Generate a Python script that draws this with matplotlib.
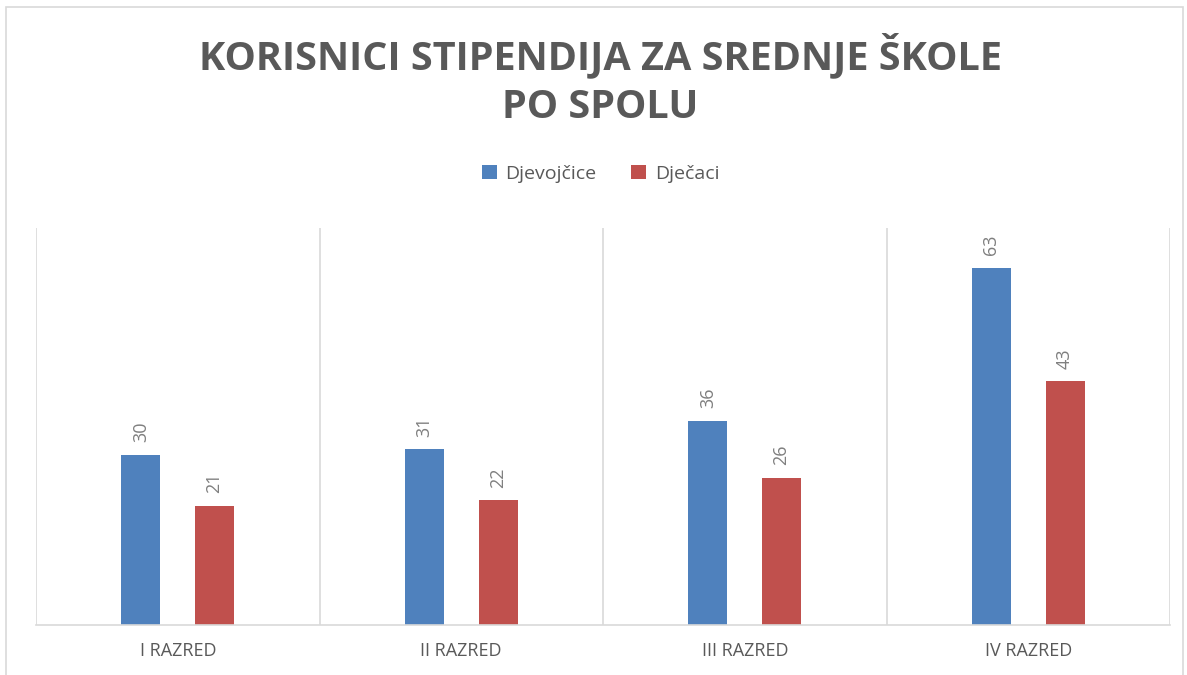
import numpy as np
import matplotlib
matplotlib.use("Agg")
import matplotlib.pyplot as plt
from matplotlib.patches import Rectangle

categories = ["I RAZRED", "II RAZRED", "III RAZRED", "IV RAZRED"]
djevojcice = [30, 31, 36, 63]
djecaci = [21, 22, 26, 43]
series_names = ["Djevojčice", "Dječaci"]

BLUE = "#4F81BD"
RED = "#C0504D"
GRID = "#D9D9D9"
TEXT = "#595959"

plt.rcParams["font.family"] = ["Open Sans", "DejaVu Sans"]

fig = plt.figure(figsize=(11.87, 6.75), dpi=100)
ax = fig.add_axes([36 / 1187, 1 - 625 / 675, (1170 - 36) / 1187, (625 - 228) / 675])

x = np.arange(len(categories))
off = 0.13
w = 0.137
b1 = ax.bar(x - off, djevojcice, w, color=BLUE, label=series_names[0])
b2 = ax.bar(x + off, djecaci, w, color=RED, label=series_names[1])

# --- data labels, rotated like the original ---
for bars in (b1, b2):
    for bar in bars:
        h = bar.get_height()
        ax.annotate(f"{h:.0f}", (bar.get_x() + bar.get_width() / 2, h),
                    xytext=(0, 9), textcoords="offset points",
                    ha="center", va="bottom", rotation=90,
                    fontsize=13, color="#7F7F7F")

ax.set_xlim(-0.5, len(categories) - 0.5)
ax.set_ylim(0, 70)
ax.set_yticks([])
ax.set_xticks(x)
ax.set_xticklabels(categories, fontsize=13, color=TEXT)
ax.tick_params(axis="x", length=0, pad=12)

# category separators
for b in np.arange(len(categories) + 1) - 0.5:
    ax.axvline(b, color=GRID, lw=1.2, zorder=0)

for s in ["top", "left", "right"]:
    ax.spines[s].set_visible(False)
ax.spines["bottom"].set_color(GRID)
ax.spines["bottom"].set_linewidth(1.2)

fig.text(0.506, 1 - 55 / 675, "KORISNICI STIPENDIJA ZA SREDNJE ŠKOLE",
         ha="center", va="center", fontsize=28.5, fontweight="bold", color=TEXT)
fig.text(0.506, 1 - 107 / 675, "PO SPOLU",
         ha="center", va="center", fontsize=28.5, fontweight="bold", color=TEXT)

fig.legend(loc="center", bbox_to_anchor=(0.506, 1 - 174 / 675), ncol=2,
           frameon=False, fontsize=14, handlelength=0.75, handleheight=0.75,
           handletextpad=0.45, columnspacing=1.8, labelcolor=TEXT)

# chart border (bottom edge falls outside the picture, as in the original)
fig.patches.append(Rectangle((6 / 1187, -0.05), 1177 / 1187, 1.05 - 7 / 675,
                             transform=fig.transFigure, fill=False,
                             edgecolor=GRID, lw=1.2))

fig.savefig("out.png", dpi=100, facecolor="white")
